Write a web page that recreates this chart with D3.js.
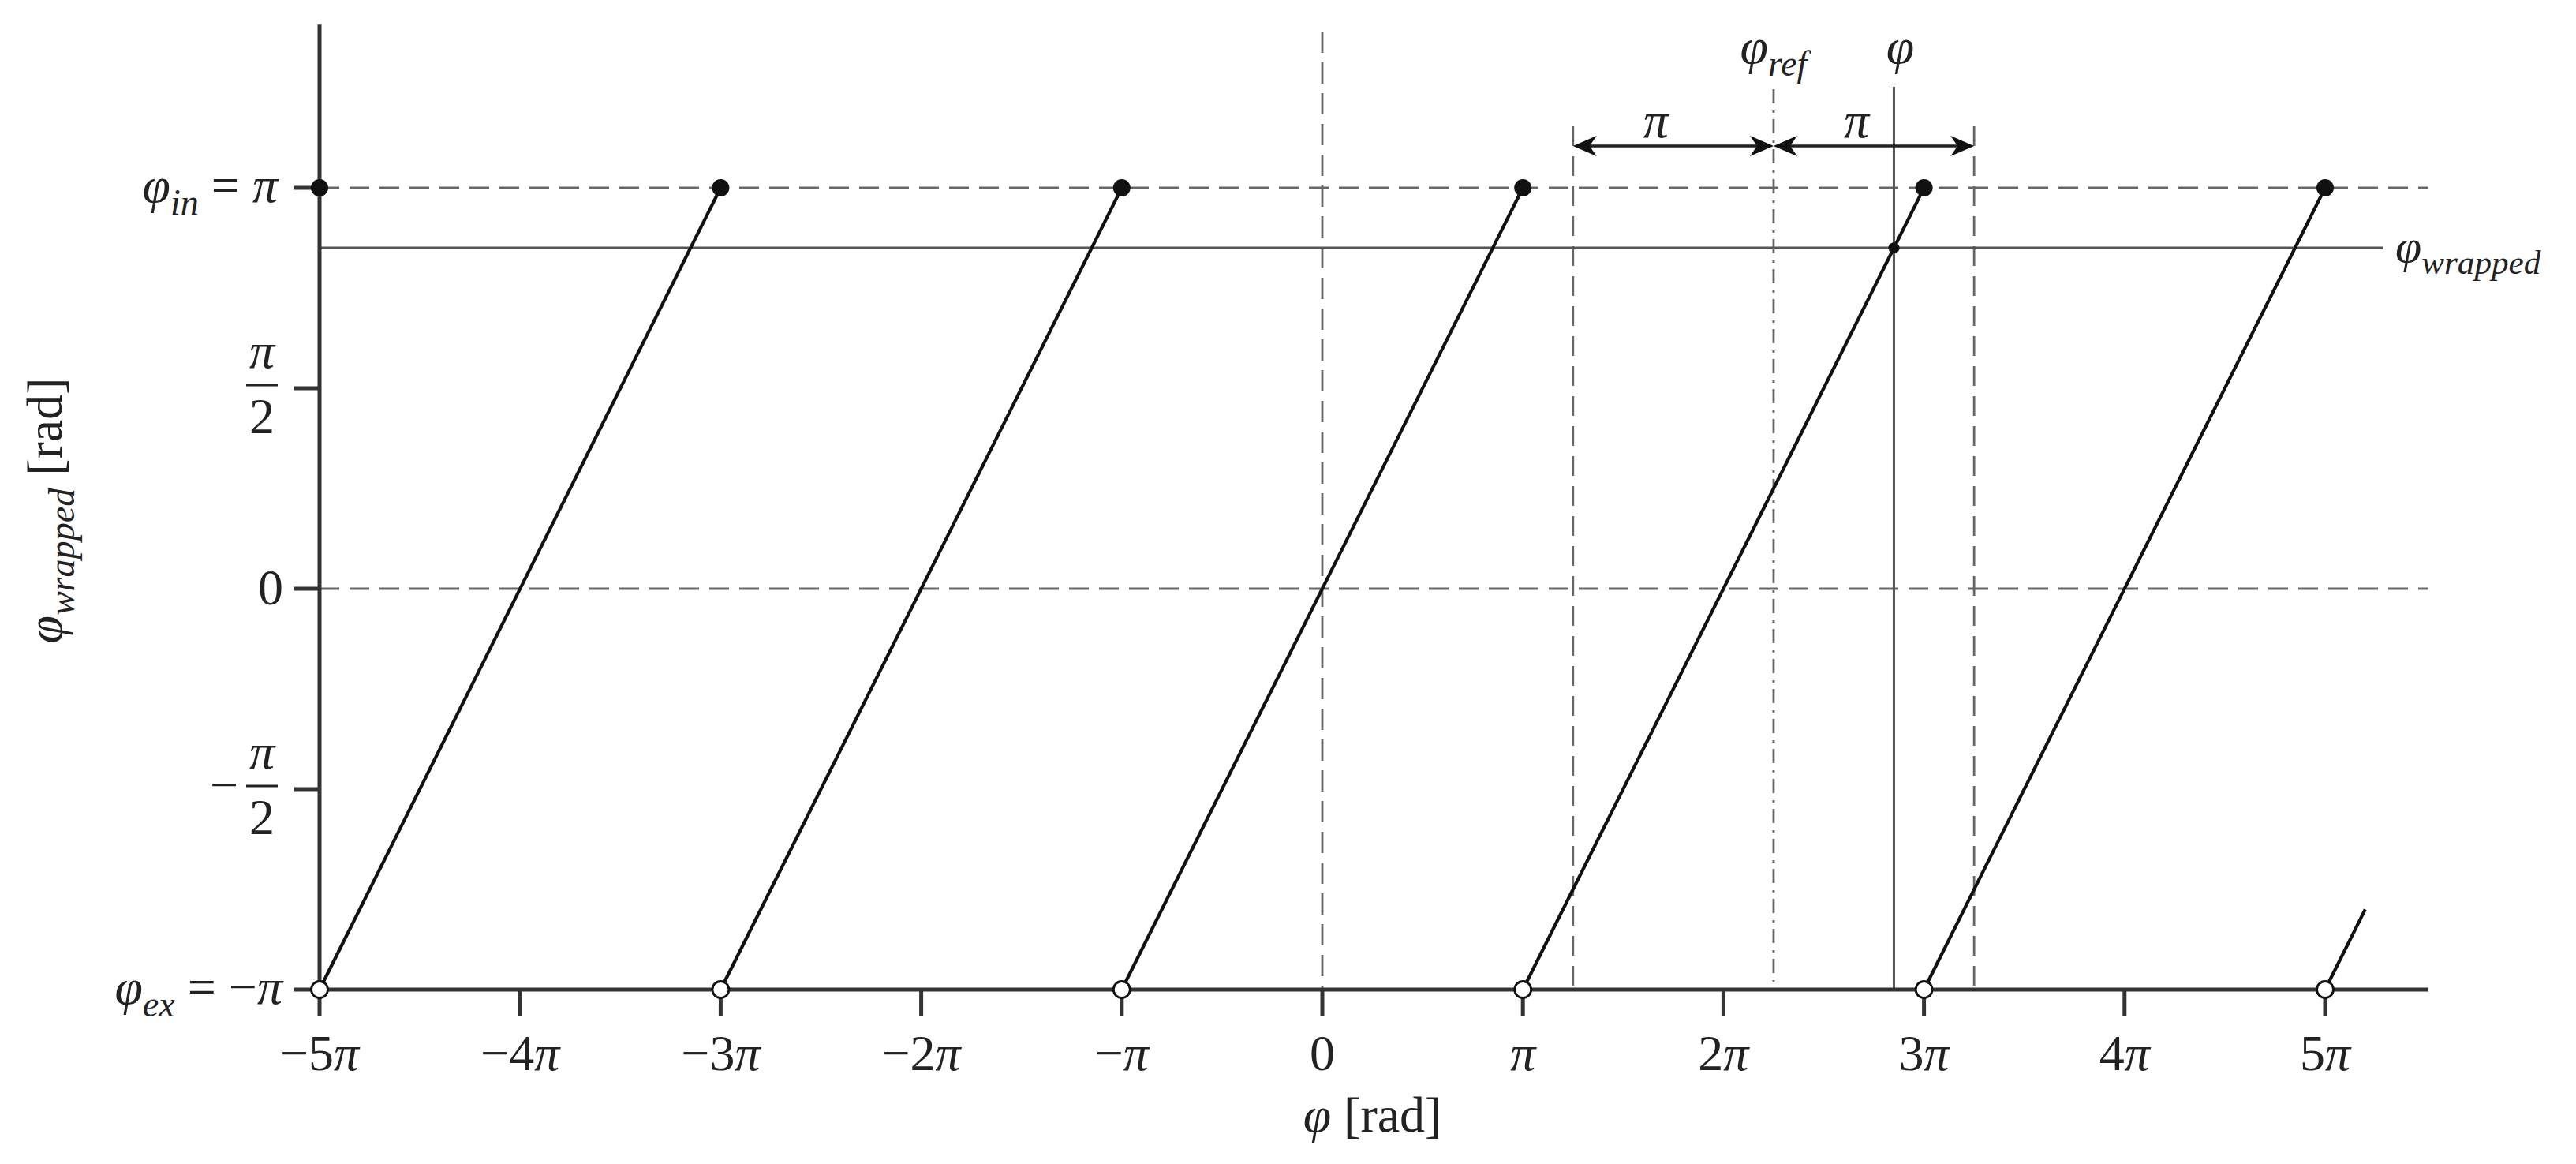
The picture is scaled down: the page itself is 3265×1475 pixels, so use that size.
<!DOCTYPE html>
<html><head><meta charset="utf-8">
<script src="https://cdn.jsdelivr.net/npm/d3@7"></script>
<style>
body{margin:0;background:#fff}
text{font-family:"Liberation Serif","DejaVu Serif",serif;fill:#222}
</style>
</head><body>
<svg id="c" width="3265" height="1475"></svg>
<script>
// ---- data (all angles in units of π) ----
const xTickValues = [-5,-4,-3,-2,-1,0,1,2,3,4,5];
const xTickNums   = ["−5","−4","−3","−2","−","0","","2","3","4","5"];
const xTickPi     = [true,true,true,true,true,false,true,true,true,true,true];
const yTickValues = [-1,-0.5,0,0.5,1];
const segStart = [-5,-3,-1,1,3,5];
const segEnd   = [-3,-1,1,3,5,5.2];
const closedDotsX = [-5,-3,-1,1,3,5];   // at y = π
const openDotsX   = [-5,-3,-1,1,3,5];   // at y = −π
const phiRef = 2.25;
const phiVal = 2.85;
const phiWrapped = 0.85;
const xMax = 5.515, yMax = 1.407;

// ---- scales ----
const x = d3.scaleLinear().domain([-5,5]).range([405,2947]);
const y = d3.scaleLinear().domain([-1,1]).range([1254,238]);
const svg = d3.select("#c");
const FS = 64;

function mt(g, px, py, parts, anchor, size){
  const t = g.append("text").attr("x",px).attr("y",py).attr("text-anchor",anchor).style("font-size",size+"px");
  let shift = 0;
  parts.forEach(p=>{
    const s = t.append("tspan").text(p.t);
    if(p.i) s.style("font-style","italic");
    const target = p.sub ? size*0.25 : 0;
    if(target!==shift){ s.attr("dy", target-shift); shift = target; }
    if(p.sub) s.style("font-size",(size*0.72)+"px");
  });
  return t;
}

const x0 = x(-5), yb = y(-1);
const dashG = svg.append("g").attr("stroke","#666").attr("stroke-width",2.8).attr("fill","none");
[1,0].forEach(v=>{
  dashG.append("line").attr("x1",x0).attr("x2",x(xMax)).attr("y1",y(v)).attr("y2",y(v))
    .attr("stroke-dasharray","25,13");
});
dashG.append("line").attr("x1",x(0)).attr("x2",x(0)).attr("y1",40).attr("y2",yb).attr("stroke-dasharray","27,12");
[phiRef-1, phiRef+1].forEach(v=>{
  dashG.append("line").attr("x1",x(v)).attr("x2",x(v)).attr("y1",160).attr("y2",yb).attr("stroke-dasharray","25,13");
});
dashG.append("line").attr("x1",x(phiRef)).attr("x2",x(phiRef)).attr("y1",113).attr("y2",yb).attr("stroke-dasharray","18,9,3,8");
svg.append("line").attr("x1",x(phiVal)).attr("x2",x(phiVal)).attr("y1",110).attr("y2",yb)
  .attr("stroke","#555").attr("stroke-width",3);
svg.append("line").attr("x1",x0).attr("x2",3020).attr("y1",y(phiWrapped)).attr("y2",y(phiWrapped))
  .attr("stroke","#555").attr("stroke-width",3.4);

// sawtooth
svg.append("g").selectAll("line").data(segStart.map((s,i)=>[s,segEnd[i]])).join("line")
  .attr("x1",d=>x(d[0])).attr("y1",y(-1))
  .attr("x2",d=>x(d[1])).attr("y2",d=>y(-1+(d[1]-d[0])))
  .attr("stroke","#111").attr("stroke-width",4.2);

// axes
const ax = svg.append("g").attr("stroke","#333").attr("stroke-width",5);
ax.append("line").attr("x1",x0).attr("x2",x0).attr("y1",y(yMax)).attr("y2",yb+2);
ax.append("line").attr("x1",x0-2).attr("x2",x(xMax)).attr("y1",yb).attr("y2",yb);
xTickValues.forEach(v=>ax.append("line").attr("x1",x(v)).attr("x2",x(v)).attr("y1",yb).attr("y2",yb+34));
yTickValues.forEach(v=>ax.append("line").attr("x1",x0-32).attr("x2",x0).attr("y1",y(v)).attr("y2",y(v)));

// x tick labels
xTickValues.forEach((v,i)=>{
  const parts=[];
  if(xTickNums[i]) parts.push({t:xTickNums[i]});
  if(xTickPi[i]) parts.push({t:"π",i:true});
  mt(svg, x(v), 1356, parts, "middle", FS);
});

// y tick labels
mt(svg, 352, y(1)+18, [{t:"φ",i:true},{t:"in",i:true,sub:true},{t:" = "},{t:"π",i:true}], "end", FS);
mt(svg, 358, y(-1)+18, [{t:"φ",i:true},{t:"ex",i:true,sub:true},{t:" = −"},{t:"π",i:true}], "end", FS);
mt(svg, 343, y(0)+20, [{t:"0"}], "middle", FS);
[0.5,-0.5].forEach(v=>{
  const cx = 332, cy = y(v);
  mt(svg, cx, cy-26, [{t:"π",i:true}], "middle", FS);
  svg.append("line").attr("x1",cx-20).attr("x2",cx+20).attr("y1",cy-4).attr("y2",cy-4).attr("stroke","#222").attr("stroke-width",3.2);
  mt(svg, cx, cy+57, [{t:"2"}], "middle", FS);
  if(v<0) mt(svg, 284, cy+16, [{t:"−"}], "middle", FS);
});

// axis titles
mt(svg, (x(0)+x(0.5))/2, 1434, [{t:"φ",i:true},{t:" [rad]"}], "middle", FS);
const yl = svg.append("g").attr("transform","translate(78,647) rotate(-90)");
mt(yl, 0, 0, [{t:"φ",i:true},{t:"wrapped",i:true,sub:true},{t:"  [rad]"}], "middle", FS);

// right label
mt(svg, 3036, y(phiWrapped)+18, [{t:"φ",i:true},{t:"wrapped",i:true,sub:true}], "start", 60);

// top labels
mt(svg, x(phiRef), 80, [{t:"φ",i:true},{t:"ref",i:true,sub:true}], "middle", FS);
mt(svg, x(phiVal)+8, 80, [{t:"φ",i:true}], "middle", FS);

// double arrows
const ay = 185;
function arrowHead(tip, dir){
  const L=30, H=13, N=21;
  return `M${tip},${ay} L${tip-dir*L},${ay-H} L${tip-dir*N},${ay} L${tip-dir*L},${ay+H} Z`;
}
[[phiRef-1,phiRef],[phiRef,phiRef+1]].forEach(([a,b])=>{
  const xa=x(a), xb=x(b);
  svg.append("line").attr("x1",xa+10).attr("x2",xb-10).attr("y1",ay).attr("y2",ay).attr("stroke","#222").attr("stroke-width",3.4);
  svg.append("path").attr("d",arrowHead(xa,-1)).attr("fill","#111");
  svg.append("path").attr("d",arrowHead(xb,1)).attr("fill","#111");
  mt(svg, (xa+xb)/2-22, 174, [{t:"π",i:true}], "middle", FS);
});

// dots
svg.append("g").selectAll("circle").data(closedDotsX).join("circle")
  .attr("cx",d=>x(d)).attr("cy",y(1)).attr("r",11).attr("fill","#111");
svg.append("g").selectAll("circle").data(openDotsX).join("circle")
  .attr("cx",d=>x(d)).attr("cy",y(-1)).attr("r",10.5).attr("fill","#fff").attr("stroke","#111").attr("stroke-width",2.8);
svg.append("circle").attr("cx",x(phiVal)).attr("cy",y(phiWrapped)).attr("r",7).attr("fill","#111");
</script>
</body></html>
